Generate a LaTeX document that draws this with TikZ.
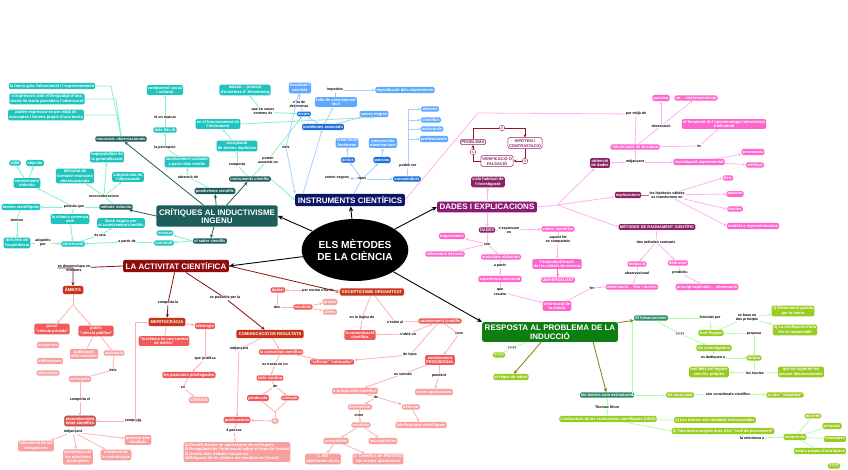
\documentclass[tikz,border=0pt]{standalone}
\usepackage{fontspec}
\setmainfont{Liberation Sans}
\usepackage{xcolor}
\definecolor{TealMain}{HTML}{1D5E5A}
\definecolor{Teal}{HTML}{1FC4BE}
\definecolor{TealLine}{HTML}{86F2CC}
\definecolor{Navy}{HTML}{0B1566}
\definecolor{BlueLight}{HTML}{5FA8FF}
\definecolor{BlueMid}{HTML}{1F6FD8}
\definecolor{BlueLine}{HTML}{A9CEFF}
\definecolor{MagMain}{HTML}{8B1A72}
\definecolor{Magenta}{HTML}{8C2463}
\definecolor{Pink}{HTML}{FF66CC}
\definecolor{PinkLine}{HTML}{FFB3F5}
\definecolor{GreenMain}{HTML}{0F7E12}
\definecolor{GreenDark}{HTML}{2E8B64}
\definecolor{Olive}{HTML}{99CC22}
\definecolor{GreenLine}{HTML}{B0FFA8}
\definecolor{OliveLine}{HTML}{7F7F10}
\definecolor{RedMain}{HTML}{8E0E0E}
\definecolor{RedOrange}{HTML}{C8351C}
\definecolor{Red}{HTML}{F25A5A}
\definecolor{Salmon}{HTML}{F8A0A0}
\definecolor{RedLine}{HTML}{FFB2B2}
\definecolor{CycleRed}{HTML}{8B1A1A}
\usetikzlibrary{shapes.geometric, arrows.meta, positioning, calc}

\begin{document}
\begin{tikzpicture}[x=1pt, y=-1pt, >=Stealth,
  box/.style={rectangle, rounded corners=1.5pt, align=center, text=white,
              inner sep=1.2pt, font=\fontsize{4}{4.6}\selectfont\bfseries},
  big/.style={rectangle, rounded corners=2pt, align=center, text=white,
              inner sep=2.6pt, font=\fontsize{8}{8.8}\selectfont\bfseries},
  caps/.style={box, inner sep=2.2pt, font=\fontsize{4.2}{4.8}\selectfont\bfseries},
  core/.style={ellipse, fill=black, text=white, minimum width=104pt, minimum height=62pt,
               inner sep=0pt, align=center, font=\fontsize{10.2}{12}\selectfont\bfseries},
  lbl/.style={font=\fontsize{3.6}{4.1}\selectfont\bfseries, fill=white, inner sep=0.4pt, align=center},
  % teal
  tmain/.style={big, fill=TealMain},
  tdark/.style={box, fill=TealMain},
  tc/.style={box, fill=Teal},
  tl/.style={draw=TealLine, line width=0.8pt},
  ta/.style={tl, -{Stealth[length=3.2pt,width=2.8pt]}},
  tk/.style={draw=TealMain, line width=0.8pt, -{Stealth[length=3.6pt,width=3.2pt]}},
  % blue
  bmain/.style={big, fill=Navy},
  bl/.style={box, fill=BlueLight},
  bm/.style={box, fill=BlueMid},
  bline/.style={draw=BlueLine, line width=0.8pt},
  barr/.style={bline, -{Stealth[length=3.2pt,width=2.8pt]}},
  % pink
  pmain/.style={big, fill=MagMain},
  pk/.style={box, fill=Pink},
  pkd/.style={box, fill=Magenta},
  pline/.style={draw=PinkLine, line width=0.8pt},
  parr/.style={pline, -{Stealth[length=3.2pt,width=2.8pt]}},
  cyc/.style={box, fill=white, draw=Magenta, text=Magenta, line width=0.5pt},
  num/.style={circle, draw=Magenta, fill=white, text=Magenta, inner sep=0.5pt,
              minimum size=5.5pt, font=\fontsize{3.4}{3.4}\selectfont\bfseries},
  cl/.style={draw=CycleRed, line width=0.8pt},
  ca/.style={cl, -{Stealth[length=3.2pt,width=2.8pt]}},
  % green
  gmain/.style={big, fill=GreenMain},
  gd/.style={box, fill=GreenDark},
  ol/.style={box, fill=Olive},
  gline/.style={draw=GreenLine, line width=0.8pt},
  garr/.style={gline, -{Stealth[length=3.2pt,width=2.8pt]}},
  oarr/.style={draw=OliveLine, line width=0.8pt, -{Stealth[length=4pt,width=3.6pt]}},
  % red
  rmain/.style={big, fill=RedMain},
  ro/.style={caps, fill=RedOrange},
  rd/.style={box, fill=Red},
  rl/.style={box, fill=Salmon},
  rline/.style={draw=RedLine, line width=0.8pt},
  rarr/.style={rline, -{Stealth[length=3.2pt,width=2.8pt]}},
  rk/.style={draw=RedMain, line width=0.8pt, -{Stealth[length=3.6pt,width=3.2pt]}},
  % black
  karr/.style={draw=black, line width=0.9pt, -{Stealth[length=5pt,width=4.4pt]}}
]
\fill[white] (0,0) rectangle (848,470);
\useasboundingbox (0,0) rectangle (848,470);

%% ---- centre and main branches ----
\node[core]  (core)  at (355,250) {ELS MÈTODES\\DE LA CIÈNCIA};
\node[tmain] (crit)  at (217,216) {CRÍTIQUES AL INDUCTIVISME\\INGENU};
\node[bmain] (instr) at (350,200) {INSTRUMENTS CIENTÍFICS};
\node[pmain] (dexp)  at (487,207) {DADES I EXPLICACIONS};
\node[rmain] (act)   at (176,266) {LA ACTIVITAT CIENTÍFICA};
\node[gmain] (resp)  at (550,332) {RESPOSTA AL PROBLEMA DE LA\\INDUCCIÓ};

\draw[karr] (core) -- (instr);
\draw[karr] (core) -- (dexp.west);
\draw[karr] (core) -- (resp.north west);
\draw[karr] (core) -- (crit.east);
\draw[karr] (core) -- (act.east);

%% ---- Crítiques: left part ----
\node[tdark] (enobs)  at (121,139) {enunciats observacionals};
\node[tc]    (tg1)    at ( 52, 86) {la teoria guia l'observació i l'experimentació};
\node[tc]    (tg2)    at ( 47, 99) {s'expressen amb el llenguatge d'una\\teoria://a teoria precedeix l'observació};
\node[tc]    (tg3)    at ( 46,115) {poden expressar-se per mitjà de\\conceptes i formes propis d'una teoria};
\node[tdark] (metind) at (116,207) {mètode inductiu};
\node[lbl]   (recons) at (104,196) {reconsideracions};
\node[tc]    (impos)  at (107,157) {impossibilitat de\\la generalització};
\node[tc]    (dific)  at ( 75,176) {dificultat de\\formular enunciats\\observacionals};
\node[tc]    (subj)   at (128,177) {subjectivitat de\\l'observació};
\node[lbl]   (postula) at (74,207) {postula que};
\node[tc]    (teocien) at (21,207) {teories científiques};
\node[tc]    (coninduc) at (27,183) {coneixement\\inductiu};
\node[tc]    (valid)  at ( 15,163) {vàlid};
\node[tc]    (objec)  at ( 35,163) {objectiu};
\node[tc]    (comenca) at (70,219) {la ciència comença\\amb};
\node[lbl]   (deriven) at (17,220) {deriven};
\node[tc]    (dfets)  at ( 17,243) {dels fets de\\l'experiència};
\node[lbl]   (adquir) at ( 43,243) {adquirits\\per};
\node[tc]    (obs)    at ( 73,244) {observació};
\node[lbl]   (esuna)  at (100,235) {és una};
\node[tc]    (base)   at (121,223) {Base segura per\\al coneixement científic};
\node[lbl]   (apartir) at (127,242) {a partir de};
\node[tc]    (invar)  at (165,233) {invariat};
\node[tc]    (constr) at (164,243) {construït};
\node[tdark] (saber)  at (210,241) {el saber científic};

\draw[tk] (crit) -- (enobs);
\draw[tk] (crit.west) -- (metind);
\foreach \t/\dx in {tg1/-10, tg2/-5, tg3/-3}
  \draw[tl] (enobs.north) -- ([xshift=\dx]enobs.north |- \t.east) -- (\t.east);
\draw[tl] (metind) -- (recons);
\draw[ta] (recons) -- (impos);
\draw[ta] (recons) -- (dific);
\draw[ta] (recons) -- (subj);
\draw[tl] (metind) -- (postula);
\draw[ta] (postula) -- (teocien);
\draw[ta] (postula) -- (coninduc);
\draw[tl] (postula) -- (comenca);
\draw[ta] (coninduc) -- (valid);
\draw[ta] (coninduc) -- (objec);
\draw[tl] (teocien) -- (deriven);
\draw[ta] (deriven) -- (dfets);
\draw[tl] (dfets) -- (adquir);
\draw[ta] (adquir) -- (obs);
\draw[ta] (comenca) -- (obs);
\draw[tl] (obs) -- (esuna);
\draw[ta] (esuna) -- (base);
\draw[tl] (constr) -- (apartir);
\draw[ta] (apartir) -- (obs);
\draw[ta] (saber.west) -- (invar);
\draw[ta] (saber.west) -- (constr);
\draw[tk] (crit) -- (saber);

%% ---- Crítiques: upper part ----
\node[tdark] (positiv) at (215,191) {positivisme científic};
\node[lbl]   (obtde)   at (188,177) {obtenció de};
\node[tc]    (conver)  at (187,162) {coneixement verdader\\a partir dels sentits};
\node[lbl]   (percep)  at (165,148) {la percepció};
\node[tc]    (fetste)  at (165,130) {dels fets té};
\node[lbl]   (marcat)  at (165,117) {té un marcat};
\node[tc]    (compsoc) at (165, 90) {component social\\i cultural};
\node[tdark] (instc)   at (250,179) {instruments científic};
\node[lbl]   (comp1)   at (237,165) {comporta};
\node[tc]    (accept)  at (237,146) {acceptació\\de teories implícites};
\node[tc]    (funcion) at (218,124) {en el funcionament de\\l'instrument};
\node[tc]    (maxim)   at (245, 90) {màxim→ principi\\d'incertesa d' Heisenberg};
\node[lbl]   (casos)   at (263,112) {que en casos\\extrems és};
\node[lbl]   (porten)  at (268,160) {porten\\associat un};

\draw[tk] (crit) -- (positiv);
\draw[tk] (crit) -- (instc);
\draw[tl] (positiv) -- (obtde);
\draw[ta] (obtde) -- (conver);
\draw[tl] (conver) -- (percep);
\draw[ta] (percep) -- (fetste);
\draw[tl] (fetste) -- (marcat);
\draw[ta] (marcat) -- (compsoc);
\draw[tl] (instc) -- (comp1);
\draw[ta] (comp1) -- (accept);
\draw[ta] (accept) -- (funcion);
\draw[ta] (instc.east) -- (instr.west);

%% ---- Instruments científics ----
\node[bl]  (exact)    at (300, 88) {exactitud i\\precisió};
\node[lbl] (determ)   at (299,104) {s'ha de\\determinar};
\node[bm]  (errors)   at (304,114) {errors};
\node[bl]  (falta)    at (336,102) {falta de coneixement\\tàcit};
\node[lbl] (impedeix) at (335, 90) {impedeix};
\node[bl]  (reprod)   at (405, 90) {reproducció dels experiments};
\node[bl]  (caixes)   at (374,114) {caixes negres};
\node[bm]  (problem)  at (323,127) {problemes associats};
\node[bl]  (crear)    at (347,143) {crear nous\\fenòmens};
\node[bl]  (mesuren)  at (383,143) {mesuren les\\observacions};
\node[bm]  (actius)   at (348,160) {actius};
\node[bm]  (passius)  at (382,160) {passius};
\node[lbl] (varien)   at (337,178) {varien segons};
\node[lbl] (tipus)    at (362,179) {tipus};
\node[bm]  (consum)   at (407,179) {consumidors};
\node[lbl] (podenser) at (408,166) {poden ser};
\node[bl]  (docents)  at (430,109) {docents};
\node[bl]  (cientif)  at (431,120) {científics};
\node[bl]  (indus)    at (432,129) {industrials};
\node[bl]  (prof)     at (434,139) {professionals};
\node[lbl] (dels1)    at (286,147) {dels};

\draw[tl] (instc) -- (porten);
\draw[ta] (porten) -- (errors);
\draw[tl] (errors) -- (casos);
\draw[ta] (casos) -- (maxim);
\draw[ta] (funcion.east) -- (caixes.south);
\draw[bline] (exact) -- (dels1);
\draw[barr] (dels1) -- (instr.north west);
\draw[barr] (instr.north west) ++(8,0) -- (problem);
\draw[barr] (problem) -- (errors);
\draw[barr] (problem) -- (falta);
\draw[barr] (problem) -- (caixes);
\draw[bline] (errors) -- (determ);
\draw[barr] (determ) -- (exact);
\draw[bline] (falta) -- (impedeix);
\draw[barr] (impedeix) -- (reprod);
\draw[bline] (instr) -- (tipus);
\draw[barr] (tipus) -- (varien);
\draw[barr] (tipus) -- (actius);
\draw[barr] (tipus) -- (passius);
\draw[barr] (tipus) -- (consum);
\draw[barr] (actius) -- (crear);
\draw[barr] (passius) -- (mesuren);
\draw[bline] (consum) -- (podenser);
\draw[bline] (podenser) -- ++(0,-57) coordinate (ptop);
\foreach \n in {docents, cientif, indus, prof}
  \draw[barr] (podenser |- \n) -- (\n);

%% ---- Dades i explicacions ----
\node[cyc] (problema) at (473,142) {PROBLEMA};
\node[cyc] (hipot)    at (525,143) {HIPÒTESI I\\CONTRASTACIÓ};
\node[cyc] (verif)    at (497,161) {VERIFICACIÓ O\\FALSACIÓ};
\node[num] (c1) at (473,152) {1};
\node[num] (c2) at (502,128) {2};
\node[num] (c3) at (525,161) {3};
\node[pkd] (cicle)    at (488,182) {cicle habitual de\\l'investigació};
\node[pkd] (dades)    at (487,230) {DADES};
\node[lbl] (sexpr)    at (509,230) {s'expressen\\en};
\node[pk]  (valnum)   at (558,229) {valors numèrics};
\node[lbl] (aquest)   at (558,240) {aquest fet\\es comparteix};
\node[pk]  (estand)   at (557,264) {l'estandardització\\de les unitats de mesura};
\node[pk]  (univ)     at (558,280) {UNIVERSALITAT};
\node[lbl] (son)      at (487,244) {són};
\node[pk]  (impers)   at (452,236) {impersonals};
\node[pk]  (infmon)   at (445,254) {informació del món};
\node[pk]  (enelab)   at (501,257) {enunciats elaborats};
\node[lbl] (apartir2) at (500,266) {a partir};
\node[pk]  (expsens)  at (500,279) {experiència sensorial};
\node[lbl] (resulta)  at (500,292) {que\\resulta};
\node[pk]  (infnat)   at (557,306) {informació de\\la natura};
\node[lbl] (fer)      at (592,288) {fer};

\draw[cl] (problema.north) |- (c2);
\draw[ca] (c2) -| (hipot.north);
\draw[cl] (hipot.south) -- (c3);
\draw[ca] (c3) -- (verif.east |- c3);
\draw[cl] (verif.west) -| (c1);
\draw[ca] (c1) -- (problema.south -| c1);
\draw[parr] (dexp) -- (cicle);
\draw[parr] (dexp) -- (dades);
\draw[pline] (dades) -- (sexpr);
\draw[parr] (sexpr) -- (valnum);
\draw[pline] (valnum) -- (aquest);
\draw[parr] (aquest) -- (estand);
\draw[draw=Pink, line width=0.8pt, -{Stealth[length=3.2pt,width=2.8pt]}] (estand) -- (univ);
\draw[pline] (dades) -- (son);
\draw[parr] (son) -- (impers);
\draw[parr] (son) -- (infmon);
\draw[parr] (son) -- (enelab);
\draw[pline] (enelab) -- (apartir2);
\draw[parr] (apartir2) -- (expsens);
\draw[pline] (expsens) -- (resulta);
\draw[parr] (resulta) -- (infnat);
\draw[pline] (infnat) -- (fer);

\node[pkd] (obtdad)  at (600,163) {obtenció\\de dades};
\node[lbl] (mitjanc) at (635,162) {mitjançant};
\node[pk]  (obsnat)  at (635,147) {l'observació de la natura};
\node[lbl] (permitja) at (636,114) {per mitjà de};
\node[lbl] (obslbl)  at (661,126) {observació};
\node[pk]  (passiva) at (661, 98) {passiva};
\node[pk]  (nointer) at (696, 98) {no→ intervencionista};
\node[lbl] (es)      at (699,146) {és};
\node[pk]  (fonam)   at (724,124) {el fonament de l'epistemologia inductivista\\tradicional};
\node[pk]  (invexp)  at (699,162) {investigació experimental};
\node[pk]  (provoc)  at (753,152) {provocada};
\node[pk]  (artif)   at (755,165) {artificial};
\node[pkd] (explic)  at (628,195) {explicacions};
\node[lbl] (hipval)  at (667,195) {les hipòtesis vàlides\\es transformen en};
\node[pk]  (lleis)   at (728,178) {lleis};
\node[pk]  (patrons) at (735,194) {patrons};
\node[pk]  (teories) at (735,209) {teories};
\node[pk]  (models)  at (753,226) {models o representacions};
\node[pkd] (metrao)  at (657,227) {MÈTODES DE RAONAMENT CIENTÍFIC};
\node[lbl] (dosmet)  at (656,242) {dos mètodes contraris};
\node[pk]  (induc)   at (637,264) {inducció};
\node[pk]  (deduc)   at (678,263) {deducció};
\node[lbl] (obsv)    at (637,273) {observacional};
\node[lbl] (predic)  at (680,273) {predictiu};
\node[pk]  (obsfets) at (632,287) {observació→ fets i teories};
\node[pk]  (princ)   at (707,287) {principi explicatiu→ observació};

\draw[pline] (dexp.east) -- ++(20,-2) coordinate (fan);
\draw[parr] (fan) -- (obtdad);
\draw[parr] (fan) -- (explic);
\draw[parr] (fan) -- (metrao.west);
\draw[pline] (obtdad) -- (mitjanc);
\draw[parr] (mitjanc) -- (obsnat);
\draw[parr] (mitjanc) -- (invexp);
\draw[pline] (obsnat) -- (permitja);
\draw[parr] (permitja) -- (478,113) -- (instr.east);
\draw[pline] (obsnat) -- (obslbl);
\draw[parr] (obslbl) -- (passiva);
\draw[parr] (obslbl) -- (nointer);
\draw[pline] (obsnat) -- (es);
\draw[parr] (es) -- (fonam);
\draw[parr] (invexp) -- (provoc);
\draw[parr] (invexp) -- (artif);
\draw[draw=Red, line width=0.8pt] (explic) -- (hipval);
\foreach \n in {lleis, patrons, teories, models}
  \draw[parr] (hipval) -- (\n.west);
\draw[pline] (metrao) -- (dosmet);
\draw[parr] (dosmet) -- (induc);
\draw[parr] (dosmet) -- (deduc);
\draw[pline] (induc) -- (obsv);
\draw[parr] (obsv) -- (obsfets);
\draw[pline] (deduc) -- (predic);
\draw[parr] (predic) -- (princ);
\draw[pline] (fer) -- (obsfets.west);

%% ---- Resposta al problema de la inducció ----
\node[lbl] (q1lbl)   at (512,348) {????};
\node[ol]  (q1)      at (499,355) {????};
\node[ol]  (regim)   at (511,377) {el règim de saber};
\node[gd]  (falsac)  at (651,318) {El falsacionisme};
\node[lbl] (formul)  at (710,318) {formulat per};
\node[ol]  (popper)  at (711,333) {Karl Popper};
\node[lbl] (basa)    at (747,318) {es basa en\\dos principis};
\node[ol]  (pr1)     at (793,311) {1) Observació guiada\\per la teoria};
\node[ol]  (pr2)     at (795,330) {2) La verificació d'una\\llei és impossible};
\node[lbl] (proposa) at (754,334) {proposa};
\node[lbl] (q2)      at (680,334) {????};
\node[ol]  (invest)  at (714,348) {els investigadors};
\node[lbl] (dedic)   at (713,358) {es dediquen a};
\node[ol]  (refutar) at (754,358) {refutar};
\node[lbl] (lesteo)  at (755,373) {les teories};
\node[ol]  (tant)    at (709,372) {tant dels col·legues\\com les pròpies};
\node[ol]  (nosup)   at (801,372) {que no superen les\\proves observacionals};
\node[ol]  (enunc)   at (680,395) {els enunciats};
\node[lbl] (consid)  at (728,394) {són considerats científics};
\node[ol]  (falsab)  at (785,395) {si són " falsables"};
\node[gd]  (teoest)  at (607,395) {les teories com estructures};
\node[lbl] (khun)    at (607,407) {Thomas Khun};
\node[ol]  (estruct) at (608,419) {L'estructura de les revolucions científiques (1962)};
\node[ol]  (t1)      at (715,420) {1) Les teories són totalitats estructurades};
\node[ol]  (t2)      at (723,431) {2) Tota teoria sorgeix dins d'un "estil de pensament"};
\node[lbl] (faref)   at (752,438) {fa referència a};
\node[ol]  (conjunt) at (795,437) {conjunt de};
\node[ol]  (normes)  at (813,416) {normes};
\node[ol]  (princip) at (832,426) {principis};
\node[ol]  (concep)  at (835,439) {conceptes};
\node[ol]  (valors2) at (820,451) {valors propis d'una època};
\node[ol]  (q3)      at (834,466) {????};

\draw[gline] (resp) -- (q1lbl);
\draw[gline] (q1lbl) -- (q1);
\draw[oarr] (resp) -- (regim);
\draw[oarr] (resp) -- (falsac);
\draw[oarr] (resp.south east) ++(-25,0) -- (teoest);
\draw[gline] (falsac) -- (formul);
\draw[garr] (formul) -- (popper);
\draw[gline] (popper) -- (basa);
\draw[garr] (basa) -- (pr1);
\draw[garr] (basa) -- (pr2);
\draw[gline] (popper) -- (proposa);
\draw[garr] (proposa) -- (refutar);
\draw[gline] (falsac) -- (q2);
\draw[garr] (q2) -- (invest);
\draw[gline] (invest) -- (dedic);
\draw[garr] (dedic) -- (refutar);
\draw[gline] (refutar) -- (lesteo);
\draw[garr] (lesteo) -- (tant);
\draw[gline] (lesteo) -- (nosup);
\draw[garr] (falsac.south west) ++(-2,0) |- (enunc);
\draw[gline] (enunc) -- (consid);
\draw[garr] (consid) -- (falsab);
\draw[gline] (teoest) -- (khun);
\draw[gline] (khun) -- (estruct);
\draw[gline] (estruct) -- (t1.west);
\draw[gline] (estruct) -- (t2.west);
\draw[gline] (t2) -- (faref);
\draw[gline] (faref) -- (conjunt);
\foreach \n in {normes, princip, concep, valors2}
  \draw[gline] (conjunt) -- (\n);

%% ---- La activitat científica ----
\node[lbl] (desenv)  at ( 74,268) {es desenvolupa en\\diferents};
\node[ro]  (ambits)  at ( 73,290) {ÀMBITS};
\node[rd]  (privat)  at ( 52,329) {privat\\"ciència privada"};
\node[rd]  (public)  at ( 96,331) {públic\\"ciència pública"};
\node[rl]  (despat)  at ( 48,345) {despatxos};
\node[rl]  (biblio)  at ( 50,361) {biblioteques};
\node[rl]  (labor)   at ( 48,373) {laboratoris};
\node[rl]  (publres) at ( 84,354) {publicació\\dels resultats};
\node[rl]  (avalua)  at (114,353) {avaluació};
\node[lbl] (dels2)   at (113,370) {dels};
\node[rl]  (coleg)   at ( 80,379) {col·legues};
\node[lbl] (compel)  at ( 80,400) {comporta el};
\node[rd, draw=gray!70!black, line width=0.6pt] (recon) at (80,421) {reconeixement\\entre científics};
\node[lbl] (comp2)   at (133,421) {comporta};
\node[lbl] (mitj2)   at ( 73,432) {mitjançant};
\node[rl]  (rellev)  at ( 36,446) {rellevància de les\\indagacions};
\node[rl]  (pertin)  at ( 78,457) {pertinència de\\les qüestions\\plantejades};
\node[rl]  (correc)  at (116,455) {correcció de\\la metodologia};
\node[rl]  (precis)  at (138,440) {precisió dels\\resultats};

\draw[rk] (act.west) -- (desenv) -| (ambits);
\draw[rline] (ambits) -- ++(0,15) coordinate (afork);
\draw[rarr] (afork) -- (privat);
\draw[rarr] (afork) -- (public);
\draw[rline] (public) -- (publres);
\draw[rline] (public) -- (avalua);
\draw[rline] (avalua) -- (dels2);
\draw[rline] (dels2) -- (coleg);
\draw[rline] (coleg) -- (compel);
\draw[rarr] (compel) -- (recon);
\draw[rline] (recon) -- (mitj2);
\draw[rarr] (mitj2) -- (rellev);
\draw[rarr] (mitj2) -- (pertin);
\draw[rarr] (mitj2) -- (correc);
\draw[rarr] (mitj2) -- (precis);

\node[lbl] (comla)   at (168,303) {comporta la};
\node[ro]  (merit)   at (167,322) {MERITOCRÀCIA};
\node[rd]  (ideol)   at (205,326) {ideologia};
\node[rd]  (carrera) at (164,341) {"la ciència és una carrera\\de mèrits"};
\node[lbl] (justif)  at (205,359) {que justifica};
\node[rd]  (posic)   at (189,375) {les posicions privilegiades};
\node[lbl] (en)      at (183,388) {en};
\node[rl, font=\fontsize{5.2}{6}\selectfont\bfseries] (ciencia) at (199,400) {ciència};

\draw[rk] (act) -- (comla) -- (merit);
\draw[rline] (merit) -- (carrera);
\draw[rarr] (merit) -- (ideol);
\draw[rline] (ideol) |- (justif);
\draw[rarr] (justif) -- (posic);
\draw[rline] (posic) -- (en);
\draw[rarr] (en) -- (ciencia);
\draw[rline] (merit.west) -- ++(-13,0) |- (comp2);
\draw[rarr] (comp2) -- (recon);

\node[lbl] (possib)  at (225,298) {es possible per la};
\node[ro]  (comun)   at (270,334) {COMUNICACIÓ DE RESULTATS};
\node[lbl] (mitj3)   at (239,349) {mitjançant};
\node[rd]  (comunit) at (281,352) {la comunitat científica};
\node[lbl] (tracta)  at (275,364) {es tracta en un};
\node[rd]  (cicle2)  at (270,378) {cicle continu};
\node[lbl] (de1)     at (275,386) {de};
\node[rd]  (produc)  at (258,398) {producció};
\node[rd]  (consumn) at (290,398) {consum};
\node[rl]  (debox)   at (275,421) {de};
\node[rd]  (public2) at (237,420) {publicacions};
\node[lbl] (passos)  at (234,431) {4 passos};
\node[rl, align=left] (llista) at (237,452) {1) Estudis basats en aportacions de col·legues\\2) Recopilació de l'informació sobre el tema de l'estudi\\3) Anàlisi dels treballs recuperats\\4)Obligació de fer públics els resultats de l'estudi};

\draw[rk] (act) -- (possib) -- (comun);
\draw[rarr] (comun) -- (comunit);
\draw[rline] (comun) -- (mitj3);
\draw[rarr] (mitj3) -- (public2);
\draw[rline] (comunit) -- (tracta);
\draw[rarr] (tracta) -- (cicle2);
\draw[rline] (cicle2) -- (de1);
\draw[rarr] (de1) -- (produc);
\draw[rarr] (de1) -- (consumn);
\draw[rline] (produc) -- (275,412) -- (consumn);
\draw[rline] (275,412) -- (debox);
\draw[rarr] (debox) -- (public2);
\draw[rline] (public2) -- (passos);
\draw[rarr] (passos) -- (llista);

\node[rd]  (dubtar)  at (278,290) {dubtar};
\node[lbl] (des)     at (277,307) {des};
\node[rd]  (resul1)  at (303,307) {resultats};
\node[rl]  (propis)  at (330,302) {propis};
\node[rl]  (aliens)  at (330,312) {aliens};
\node[lbl] (pernorm) at (318,291) {per norma s'ha de};
\node[ro]  (escep)   at (372,292) {ESCEPTICISME ORGANITZAT};
\node[lbl] (logica)  at (362,318) {en la lògica de};
\node[lbl] (sesten)  at (395,322) {s'estén al};
\node[rd]  (comcien) at (360,335) {la comunicació\\científica};
\node[lbl] (sobte)   at (408,334) {s'obté un};
\node[rd]  (concien) at (440,321) {coneixement científic};
\node[lbl] (com)     at (459,334) {com};
\node[rd]  (reflex)  at (332,362) {"reflexiu" "retroactiu"};
\node[lbl] (detipus) at (410,355) {de tipus};
\node[rd]  (provis)  at (440,360) {coneixement\\PROVISIONAL};
\node[lbl] (sotmes)  at (403,374) {es sotmès};
\node[lbl] (pendent) at (439,376) {pendent};
\node[rl]  (noves)   at (434,392) {noves aportacions};
\node[rl]  (lupa)    at (355,391) {a la lupa dels científics};
\node[lbl] (de2)     at (376,397) {de};
\node[rl]  (discrim) at (360,407) {discriminar};
\node[rl]  (detect)  at (411,407) {detectar};
\node[lbl] (entre)   at (359,415) {entre};
\node[rl]  (falsif)  at (421,425) {falsificacions científiques};
\node[rl]  (resul2)  at (361,425) {resultats};
\node[rl]  (accep)   at (336,441) {acceptables};
\node[rl]  (inacc)   at (383,441) {inacceptables};
\node[rl]  (no1)     at (323,459) {1. NO\\qüestionen teoria};
\node[rl]  (prest)   at (378,459) {2. Científics de PRESTIGI\\són menys qüestionats};

\draw[rk] (act.east) -- (escep.west);
\draw[rline] (escep) -- (pernorm);
\draw[rarr] (pernorm) -- (dubtar);
\draw[rline] (dubtar) -- (des);
\draw[rline] (des) -- (resul1);
\draw[rarr] (resul1) -- (propis);
\draw[rarr] (resul1) -- (aliens);
\draw[rline] (escep) -- (logica);
\draw[rarr] (logica) -- (comcien);
\draw[rline] (escep) -- (sesten);
\draw[rline] (sesten) -- (concien);
\draw[rline] (comcien) -- (sobte);
\draw[rarr] (sobte) -- (concien);
\draw[rline] (concien) -- (com);
\draw[rarr] (com) -- (provis);
\draw[rline] (concien) -- (detipus);
\draw[rarr] (detipus) -- (reflex);
\draw[rline] (reflex) -- (comunit);
\draw[rline] (provis) -- (pendent);
\draw[rarr] (pendent) -- (noves);
\draw[rline] (provis) -- (sotmes);
\draw[rarr] (sotmes) -- (lupa);
\draw[rline] (lupa) -- (de2);
\draw[rarr] (de2) -- (discrim);
\draw[rarr] (de2) -- (detect);
\draw[rarr] (detect) -- (falsif);
\draw[rline] (discrim) -- (entre);
\draw[rarr] (entre) -- (resul2);
\draw[rarr] (resul2) -- (accep);
\draw[rarr] (resul2) -- (inacc);
\draw[rarr] (accep) -- (no1);
\draw[rarr] (accep) -- (prest);

\end{tikzpicture}
\end{document}
